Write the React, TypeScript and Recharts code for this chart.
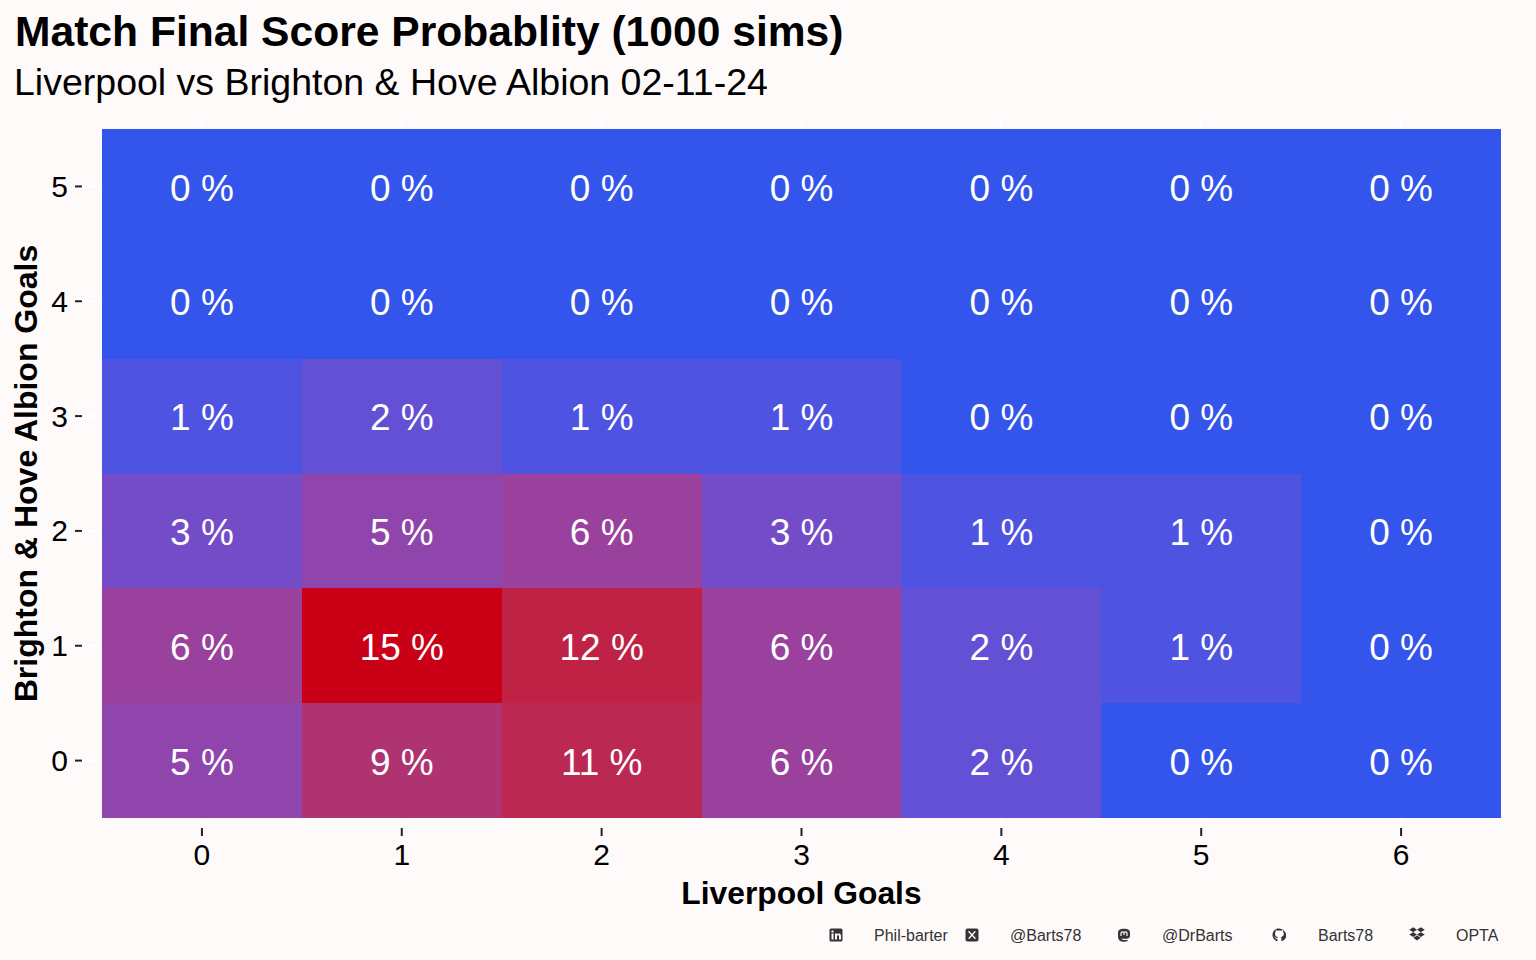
import React from "react";
import { BarChart, Bar, XAxis, YAxis, Cell, LabelList } from "recharts";

const liverpoolGoals = [0, 1, 2, 3, 4, 5, 6];
const brightonGoals = [0, 1, 2, 3, 4, 5];
// one row per Brighton goal count, one value per Liverpool goal count (percent)
const brighton0 = [5, 9, 11, 6, 2, 0, 0];
const brighton1 = [6, 15, 12, 6, 2, 1, 0];
const brighton2 = [3, 5, 6, 3, 1, 1, 0];
const brighton3 = [1, 2, 1, 1, 0, 0, 0];
const brighton4 = [0, 0, 0, 0, 0, 0, 0];
const brighton5 = [0, 0, 0, 0, 0, 0, 0];
const rows = [brighton0, brighton1, brighton2, brighton3, brighton4, brighton5];
const credits = ["Phil-barter", "@Barts78", "@DrBarts", "Barts78", "OPTA"];

const BG = "#FFFAFA";
const FONT = "'Liberation Sans', Arial, sans-serif";
const LOW = [52, 85, 235];
const HIGH = [201, 0, 22];

const f = (t: number) => (t > 0.008856 ? Math.cbrt(t) : 7.787 * t + 16 / 116);
const fi = (t: number) => (t * t * t > 0.008856 ? t * t * t : (t - 16 / 116) / 7.787);
const lin = (c: number) => { const v = c / 255; return v > 0.04045 ? Math.pow((v + 0.055) / 1.055, 2.4) : v / 12.92; };
const gam = (v: number) => { const c = v > 0.0031308 ? 1.055 * Math.pow(v, 1 / 2.4) - 0.055 : 12.92 * v; return Math.round(Math.max(0, Math.min(1, c)) * 255); };
function toLab([r0, g0, b0]: number[]) {
  const r = lin(r0), g = lin(g0), b = lin(b0);
  const x = (0.4124 * r + 0.3576 * g + 0.1805 * b) / 0.95047;
  const y = 0.2126 * r + 0.7152 * g + 0.0722 * b;
  const z = (0.0193 * r + 0.1192 * g + 0.9505 * b) / 1.08883;
  return [116 * f(y) - 16, 500 * (f(x) - f(y)), 200 * (f(y) - f(z))];
}
function fromLab([L, a, b]: number[]) {
  const fy = (L + 16) / 116;
  const x = fi(fy + a / 500) * 0.95047, y = fi(fy), z = fi(fy - b / 200) * 1.08883;
  return `rgb(${gam(3.2406 * x - 1.5372 * y - 0.4986 * z)},${gam(-0.9689 * x + 1.8758 * y + 0.0415 * z)},${gam(0.0557 * x - 0.204 * y + 1.057 * z)})`;
}
const labLow = toLab(LOW), labHigh = toLab(HIGH);
const colorFor = (v: number) => {
  const t = Math.pow(v / 15, 1.2);
  const lab = labLow.map((c, i) => c + (labHigh[i] - c) * t);
  // the reference's mid tones are slightly less blue than a plain Lab blend
  lab[2] += 14 * t * (1 - t);
  return fromLab(lab);
};

const table = liverpoolGoals.map((g, i) => {
  const row: Record<string, number> = { goals: g };
  rows.forEach((r, k) => { row[`pct${k}`] = r[i]; });
  return row;
});
const one = () => 1;

const LeftTick = ({ x, y, payload }: any) => (
  <g>
    <line x1={x - 20} x2={x - 2} y1={y} y2={y} stroke="#FFFFFF" strokeWidth={2} />
    <line x1={x - 27} x2={x - 20} y1={y} y2={y} stroke="#222" strokeWidth={2} />
    <text x={x - 34} y={y + 10.5} textAnchor="end" fontFamily={FONT} fontSize={30} fill="#000">{payload.value - 0.5}</text>
  </g>
);
const RightTick = ({ x, y }: any) => <line x1={x + 1} x2={x + 19} y1={y} y2={y} stroke="#FFFFFF" strokeWidth={2} />;
const BottomTick = ({ x, y, payload }: any) => (
  <g>
    <line x1={x} x2={x} y1={y + 2} y2={y + 10} stroke="#FFFFFF" strokeWidth={2} />
    <line x1={x} x2={x} y1={y + 10} y2={y + 18} stroke="#222" strokeWidth={2} />
    <text x={x} y={y + 47} textAnchor="middle" fontFamily={FONT} fontSize={30} fill="#000">{payload.value}</text>
  </g>
);
const TopTick = ({ x, y }: any) => <line x1={x} x2={x} y1={y - 12} y2={y - 1} stroke="#FFFFFF" strokeWidth={2} />;

const ICON = "#333333";
const icons = [
  <g key="in"><rect x="0.5" y="0.5" width="13" height="13" rx="1.5" fill={ICON} /><rect x="2.5" y="5.5" width="2" height="6" fill={BG} /><rect x="2.5" y="2.5" width="2" height="2" fill={BG} /><path d="M6 5.5h2v1c.6-1.4 4-1.6 4 1.2v3.8h-2V8.3c0-1.4-2-1.3-2 0v3.2H6z" fill={BG} /></g>,
  <g key="x"><rect x="0.5" y="0.5" width="13" height="13" rx="2" fill={ICON} /><path d="M3.5 3.2 L10.5 10.8 M10.3 3.2 L3.7 10.8" stroke={BG} strokeWidth="1.3" /></g>,
  <g key="m"><path d="M1 5c0-3 2-4.3 6-4.3S13 2 13 5v3c0 2-2 2.8-5.5 2.8-1.2 0-2.2-.1-3-.3.3 1.6 3 1.7 6 1.2v1.5c-4 1.1-9 .7-9.4-4z" fill={ICON} /><path d="M4 8V5c0-1.5 3-1.5 3 0v2M7 7V5c0-1.5 3-1.5 3 0v3" fill="none" stroke={BG} strokeWidth="1.2" /></g>,
  <g key="g"><path d="M7 0.5C3.2 0.5 .5 3.2 .5 7c0 2.9 1.8 5.3 4.4 6.2.4 0 .5-.2.5-.4v-2c-1.8.4-2.3-.8-2.4-1.2-.2-.5-.6-.8-.9-1 .7-.3 1.3.3 1.7.9.5.7 1.2.6 1.6.4.1-.5.3-.8.6-1-1.7-.2-3-1-3-3.2 0-.7.2-1.3.7-1.8-.1-.3-.2-1 .1-1.9.7 0 1.4.4 1.8.8 1-.3 2.7-.3 3.6 0 .5-.4 1.2-.8 1.8-.8.3.9.2 1.6.1 1.9.5.5.7 1.1.7 1.8 0 2.2-1.3 3-3 3.2.4.3.6.8.6 1.5v2.3c0 .2.1.4.5.4 2.6-.9 4.4-3.3 4.4-6.2C13.5 3.2 10.8.5 7 .5z" fill={ICON} /></g>,
  <g key="d"><path d="M3.7 0.3 7 2.4 3.7 4.5 .2 2.4zM10.3 .3 13.8 2.4 10.3 4.5 7 2.4zM3.7 4.5 7 6.6 3.7 8.7 .2 6.6zM10.3 4.5 13.8 6.6 10.3 8.7 7 6.6zM3.7 9.5 7 7.4 10.3 9.5 7 11.8z" fill={ICON} /></g>,
];
const iconX = [829, 965, 1117, 1271, 1409];
const creditX = [874, 1010, 1162, 1318, 1456];

export default function App() {
  return (
    <div style={{ position: "fixed", left: 0, top: 0, width: 1536, height: 960, background: BG, overflow: "hidden", fontFamily: FONT }}>
      <div style={{ position: "absolute", left: 15, top: 7, fontSize: 42.6, fontWeight: 700, lineHeight: "48px", whiteSpace: "nowrap", color: "#000" }}>
        Match Final Score Probablity (1000 sims)
      </div>
      <div style={{ position: "absolute", left: 14, top: 61, fontSize: 37.5, lineHeight: "42px", whiteSpace: "nowrap", color: "#000" }}>
        Liverpool vs Brighton &amp; Hove Albion 02-11-24
      </div>
      <BarChart
        width={1536}
        height={960}
        data={table}
        stackOffset="none"
        barCategoryGap={0}
        barGap={0}
        margin={{ top: 0, right: 0, bottom: 0, left: 0 }}
        style={{ position: "absolute", left: 0, top: 0 }}
      >
        <XAxis
          xAxisId="bottom"
          dataKey="goals"
          type="category"
          orientation="bottom"
          height={142}
          interval={0}
          axisLine={false}
          tickLine={false}
          tickSize={0}
          tickMargin={0}
          tick={<BottomTick />}
          label={{ value: "Liverpool Goals", position: "insideTop", offset: 63, fontFamily: FONT, fontSize: 31.8, fontWeight: 700, fill: "#000" }}
        />
        <XAxis xAxisId="top" dataKey="goals" type="category" orientation="top" height={129} interval={0} axisLine={false} tickLine={false} tickSize={0} tickMargin={0} tick={<TopTick />} />
        <YAxis
          yAxisId="left"
          type="number"
          domain={[0, 6]}
          ticks={brightonGoals.map((g) => g + 0.5)}
          orientation="left"
          width={102}
          interval={0}
          axisLine={false}
          tickLine={false}
          tickSize={0}
          tickMargin={0}
          tick={<LeftTick />}
          label={{ value: "Brighton & Hove Albion Goals", angle: -90, position: "insideLeft", offset: 26, dy: 0, fontFamily: FONT, fontSize: 32, fontWeight: 700, fill: "#000", style: { textAnchor: "middle" } }}
        />
        <YAxis yAxisId="right" type="number" domain={[0, 6]} ticks={brightonGoals.map((g) => g + 0.5)} orientation="right" width={35} interval={0} axisLine={false} tickLine={false} tickSize={0} tickMargin={0} tick={<RightTick />} />
        {rows.map((r, k) => (
          <Bar key={k} xAxisId="bottom" yAxisId="left" stackId="s" dataKey={one} isAnimationActive={false} name={`${brightonGoals[k]}`} shapeRendering="crispEdges">
            {r.map((v, i) => (
              <Cell key={i} fill={colorFor(v)} shapeRendering="crispEdges" />
            ))}
            <LabelList
              dataKey={`pct${k}`}
              position="center"
              formatter={(v: number) => `${v} %`}
              fill="#FFFFFF"
              fontFamily={FONT}
              fontSize={37}
              dy={1}
            />
          </Bar>
        ))}
      </BarChart>
      {icons.map((ic, i) => (
        <svg key={i} width={i === 4 ? 16 : 14} height={i === 4 ? 16 : 14} viewBox="0 0 14 14" style={{ position: "absolute", left: iconX[i] + (i === 3 ? 1 : 0), top: i === 4 ? 927 : 928 }}>{ic}</svg>
      ))}
      {credits.map((c, i) => (
        <span key={c} style={{ position: "absolute", left: creditX[i], top: 927, fontSize: 16, lineHeight: "18px", color: "#333", whiteSpace: "nowrap" }}>{c}</span>
      ))}
    </div>
  );
}
